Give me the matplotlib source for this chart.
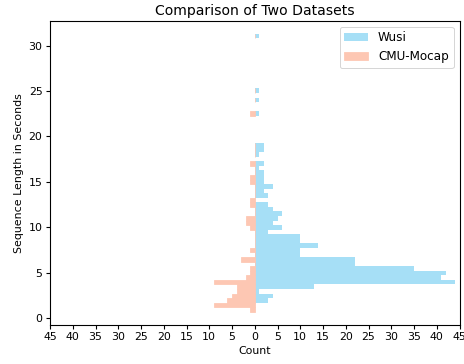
import matplotlib
matplotlib.use("Agg")
import matplotlib.pyplot as plt
import numpy as np

# histogram counts per bin, bottom to top (61 bins of ~0.5 s)
wusi_counts = [0, 0, 3, 4, 1, 13, 44, 41, 42, 35,
               22, 22, 10, 10, 14, 10, 10, 3, 6, 4,
               5, 6, 4, 3, 0, 3, 2, 4, 2, 2,
               2, 1, 2, 0, 1, 2, 2, 0, 0, 0,
               0, 0, 0, 1, 0, 0, 1, 0, 1, 0,
               0, 0, 0, 0, 0, 0, 0, 0, 0, 0,
               1]
cmu_counts = [1, 9, 6, 5, 4, 4, 9, 2, 1, 1,
              0, 3, 0, 1, 0, 0, 0, 0, 1, 2,
              2, 0, 0, 1, 1, 0, 0, 0, 1, 1,
              0, 0, 1, 0, 0, 0, 0, 0, 0, 0,
              0, 0, 0, 1, 0, 0, 0, 0, 0, 0,
              0, 0, 0, 0, 0, 0, 0, 0, 0, 0,
              0]
x_ticks = list(range(-45, 50, 5))

wusi = np.array(wusi_counts)
cmu = np.array(cmu_counts)
edges = np.linspace(0.69, 31.3, len(wusi) + 1)
centers = (edges[:-1] + edges[1:]) / 2
height = edges[1] - edges[0]

plt.rcParams['axes.linewidth'] = 1.1
fig = plt.figure(figsize=(464 / 72, 364 / 72), dpi=72)
ax = fig.add_axes([50 / 464, 1 - 325 / 364, 409.5 / 464, 304.5 / 364])

ax.barh(centers, wusi, height=height, color='#a6dff6', label='Wusi')
# rows present in either dataset (zero-width CMU bars leave a hairline)
present = (wusi > 0) | (cmu > 0)
ax.barh(centers[present], -cmu[present], height=height, color='#fdc7b3',
        edgecolor='#fdc7b3', linewidth=0.8, label='CMU-Mocap')

ax.set_xlim(-45, 45)
ax.set_ylim(-0.77, 32.76)
ax.set_xticks(x_ticks)
ax.set_xticklabels([str(abs(t)) for t in x_ticks])
ax.tick_params(labelsize=11, length=4, width=1.1)
ax.set_xlabel('Count', fontsize=11)
ax.set_ylabel('Sequence Length in Seconds', fontsize=11)
ax.set_title('Comparison of Two Datasets', fontsize=14)
ax.legend(loc='upper right', fontsize=12)

fig.savefig('out.png', dpi=72)
